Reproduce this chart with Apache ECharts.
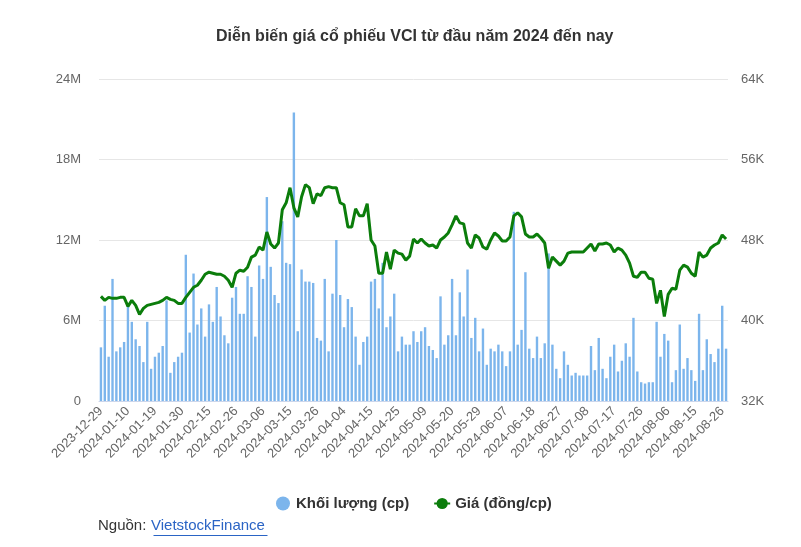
<!DOCTYPE html>
<html>
<head>
<meta charset="utf-8">
<script src="https://cdn.jsdelivr.net/npm/echarts@6/dist/echarts.min.js"></script>
<style>
html,body{margin:0;padding:0;background:#fff;}
#chart{width:801px;height:547px;}
</style>
</head>
<body>
<div id="chart"></div>
<script>
// Trading days (categories)
const dates = [
'2023-12-29',
'2024-01-02','2024-01-03','2024-01-04','2024-01-05',
'2024-01-08','2024-01-09','2024-01-10','2024-01-11','2024-01-12',
'2024-01-15','2024-01-16','2024-01-17','2024-01-18','2024-01-19',
'2024-01-22','2024-01-23','2024-01-24','2024-01-25','2024-01-26',
'2024-01-29','2024-01-30','2024-01-31',
'2024-02-01','2024-02-02','2024-02-05','2024-02-06','2024-02-07',
'2024-02-15','2024-02-16',
'2024-02-19','2024-02-20','2024-02-21','2024-02-22','2024-02-23',
'2024-02-26','2024-02-27','2024-02-28','2024-02-29',
'2024-03-01','2024-03-04','2024-03-05','2024-03-06','2024-03-07','2024-03-08',
'2024-03-11','2024-03-12','2024-03-13','2024-03-14','2024-03-15',
'2024-03-18','2024-03-19','2024-03-20','2024-03-21','2024-03-22',
'2024-03-25','2024-03-26','2024-03-27','2024-03-28','2024-03-29',
'2024-04-01','2024-04-02','2024-04-03','2024-04-04','2024-04-05',
'2024-04-08','2024-04-09','2024-04-10','2024-04-11','2024-04-12',
'2024-04-15','2024-04-16','2024-04-17','2024-04-19',
'2024-04-22','2024-04-23','2024-04-24','2024-04-25','2024-04-26',
'2024-05-02','2024-05-03',
'2024-05-06','2024-05-07','2024-05-08','2024-05-09','2024-05-10',
'2024-05-13','2024-05-14','2024-05-15','2024-05-16','2024-05-17',
'2024-05-20','2024-05-21','2024-05-22','2024-05-23','2024-05-24',
'2024-05-27','2024-05-28','2024-05-29','2024-05-30','2024-05-31',
'2024-06-03','2024-06-04','2024-06-05','2024-06-06','2024-06-07',
'2024-06-10','2024-06-11','2024-06-12','2024-06-13','2024-06-14',
'2024-06-17','2024-06-18','2024-06-19','2024-06-20','2024-06-21',
'2024-06-24','2024-06-25','2024-06-26','2024-06-27','2024-06-28',
'2024-07-01','2024-07-02','2024-07-03','2024-07-04','2024-07-05',
'2024-07-08','2024-07-09','2024-07-10','2024-07-11','2024-07-12',
'2024-07-15','2024-07-16','2024-07-17','2024-07-18','2024-07-19',
'2024-07-22','2024-07-23','2024-07-24','2024-07-25','2024-07-26',
'2024-07-29','2024-07-30','2024-07-31',
'2024-08-01','2024-08-02',
'2024-08-05','2024-08-06','2024-08-07','2024-08-08','2024-08-09',
'2024-08-12','2024-08-13','2024-08-14','2024-08-15','2024-08-16',
'2024-08-19','2024-08-20','2024-08-21','2024-08-22','2024-08-23',
'2024-08-26','2024-08-27'
];

// Volume (million shares)
const volume = [
4.0,7.1,3.3,9.1,3.7,4.0,4.4,7.1,5.9,4.6,
4.1,2.9,5.9,2.4,3.3,3.6,4.1,7.5,2.1,2.9,
3.3,3.6,10.9,5.1,9.5,5.7,6.9,4.8,7.2,5.9,
8.5,6.3,4.9,4.3,7.7,8.5,6.5,6.5,9.3,8.5,
4.8,10.1,9.1,15.2,10.0,7.9,7.3,13.4,10.3,10.2,
21.5,5.2,9.8,8.9,8.9,8.8,4.7,4.5,9.1,3.7,
8.0,12.0,7.9,5.5,7.6,7.0,4.8,2.7,4.4,4.8,
8.9,9.1,6.9,10.3,5.5,6.3,8.0,3.7,4.8,4.2,
4.2,5.2,4.4,5.2,5.5,4.1,3.8,3.2,7.8,4.2,
4.9,9.1,4.9,8.1,6.3,9.8,4.7,6.2,3.7,5.4,
2.7,3.9,3.7,4.2,3.7,2.6,3.7,14.1,4.2,5.3,
9.6,3.9,3.2,4.8,3.2,4.3,11.0,4.2,2.4,1.7,
3.7,2.7,1.9,2.1,1.9,1.9,1.9,4.1,2.3,4.7,
2.4,1.7,3.3,4.2,2.2,3.0,4.3,3.3,6.2,2.2,
1.4,1.3,1.4,1.4,5.9,3.3,5.0,4.5,1.4,2.3,
5.7,2.4,3.2,2.3,1.5,6.5,2.3,4.6,3.5,2.9,
3.9,7.1,3.9
];

// Price (thousand VND)
const price = [
42.4,42.0,42.3,42.2,42.2,42.3,42.3,41.4,42.0,41.5,
40.6,41.2,41.5,41.6,41.7,41.8,42.0,42.3,42.1,42.0,
41.7,41.7,42.3,42.8,43.3,43.5,44.0,44.6,44.8,44.7,
44.6,44.6,44.4,44.0,43.3,44.7,45.0,44.9,45.3,46.3,
46.5,47.3,47.0,48.8,47.6,47.2,47.7,51.0,51.7,53.2,
51.2,50.3,52.3,53.5,53.2,51.6,52.6,52.4,53.2,53.3,
53.2,53.2,51.7,51.5,49.3,49.3,51.1,50.4,50.4,51.6,
48.0,47.4,44.7,44.7,46.8,45.1,47.0,46.7,46.6,46.0,
46.4,48.1,47.7,48.1,47.7,47.4,47.5,47.2,48.0,48.3,
48.7,49.5,50.4,49.7,49.6,47.7,47.2,48.5,48.2,47.3,
47.1,48.0,48.7,48.4,47.9,47.9,48.3,50.4,50.7,50.3,
48.6,48.3,48.3,48.6,48.2,47.7,45.2,46.3,45.9,45.5,
45.9,46.7,46.8,46.8,46.8,46.8,47.2,47.6,46.9,47.6,
47.6,47.7,47.5,46.8,47.2,47.0,46.5,45.7,44.4,44.3,
44.8,44.8,44.2,44.1,41.7,43.0,40.4,42.6,43.2,43.1,
45.0,45.5,45.3,44.7,44.4,46.8,46.3,46.5,47.2,47.5,
47.7,48.5,48.1
];

const volTicks = {min: 0, max: 24, interval: 6};
const priceTicks = {min: 32, max: 64, interval: 8};

const chart = echarts.init(document.getElementById('chart'), null, {renderer: 'canvas'});
const FONT = '"Liberation Sans", Arial, sans-serif';

chart.setOption({
  animation: false,
  backgroundColor: '#fff',
  title: {
    text: 'Diễn biến giá cổ phiếu VCI từ đầu năm 2024 đến nay',
    left: 211,
    top: 24,
    textStyle: {fontFamily: FONT, fontSize: 16, fontWeight: 'bold', color: '#333'}
  },
  legend: {
    bottom: 31,
    left: 271,
    itemGap: 24,
    itemWidth: 16,
    itemHeight: 14,
    textStyle: {fontFamily: FONT, fontSize: 15, fontWeight: 'bold', color: '#333'},
    data: [
      {name: 'Khối lượng (cp)', icon: 'circle'},
      {name: 'Giá (đồng/cp)'}
    ]
  },
  grid: {left: 99, right: 73, top: 79, bottom: 146, containLabel: false},
  xAxis: {
    type: 'category',
    data: dates,
    boundaryGap: true,
    axisLine: {lineStyle: {color: '#ccd6eb'}},
    axisTick: {alignWithLabel: true, interval: 6, length: 5, lineStyle: {color: '#ccd6eb'}},
    axisLabel: {
      interval: 6, rotate: 45, margin: 8,
      fontFamily: FONT, fontSize: 13, color: '#666'
    }
  },
  yAxis: [
    {
      type: 'value',
      min: volTicks.min, max: volTicks.max, interval: volTicks.interval,
      axisLabel: {formatter: v => v === 0 ? '0' : v + 'M', fontFamily: FONT, fontSize: 13, color: '#666', margin: 18},
      axisLine: {show: false}, axisTick: {show: false},
      splitLine: {lineStyle: {color: '#e6e6e6'}}
    },
    {
      type: 'value',
      min: priceTicks.min, max: priceTicks.max, interval: priceTicks.interval,
      position: 'right',
      axisLabel: {formatter: '{value}K', fontFamily: FONT, fontSize: 13, color: '#666', margin: 13},
      axisLine: {show: false}, axisTick: {show: false},
      splitLine: {show: false}
    }
  ],
  series: [
    {
      name: 'Khối lượng (cp)',
      type: 'bar',
      data: volume,
      yAxisIndex: 0,
      barWidth: '62%',
      itemStyle: {color: '#7cb5ec'}
    },
    {
      name: 'Giá (đồng/cp)',
      type: 'line',
      data: price,
      yAxisIndex: 1,
      symbol: 'circle',
      symbolSize: 8,
      showSymbol: false,
      lineStyle: {color: '#0b7d0b', width: 3},
      itemStyle: {color: '#0b7d0b'}
    }
  ],
  graphic: [
    {
      type: 'text', left: 98, top: 518,
      style: {text: 'Nguồn: ', font: '15px "Liberation Sans", Arial, sans-serif', fill: '#333'}
    },
    {
      type: 'text', left: 151, top: 518,
      style: {text: 'VietstockFinance', font: '15px "Liberation Sans", Arial, sans-serif', fill: '#2a64c5'}
    },
    {
      type: 'line', left: 151, top: 533,
      shape: {x1: 0, y1: 0, x2: 114, y2: 0},
      style: {stroke: '#2a64c5', lineWidth: 1}
    }
  ]
});
</script>
</body>
</html>
